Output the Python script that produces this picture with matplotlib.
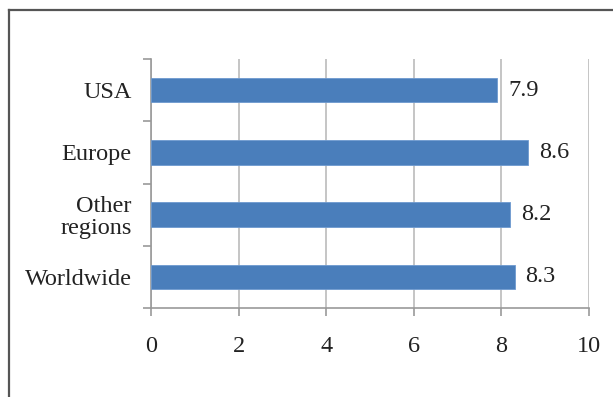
import numpy as np
import matplotlib
matplotlib.use("Agg")
import matplotlib.pyplot as plt

# chart data (top to bottom)
regions = ["USA", "Europe", "Other\nregions", "Worldwide"]
scores = [7.9, 8.6, 8.2, 8.3]
x_ticks = [0, 2, 4, 6, 8, 10]

plt.rcParams["font.family"] = ["Liberation Serif", "DejaVu Serif"]
FS = 17.5

W, H = 613, 397
fig = plt.figure(figsize=(W / 100, H / 100), dpi=100)

# outer frame (only left and top are visible in the crop)
fig.add_artist(plt.Line2D([9 / W, 9 / W], [0, 1 - 10 / H], color="#555555", lw=1.6,
                          transform=fig.transFigure))
fig.add_artist(plt.Line2D([9 / W, 1], [1 - 10 / H, 1 - 10 / H], color="#555555", lw=1.6,
                          transform=fig.transFigure))

left, right, top, bottom = 151, 589, 59, 308
ax = fig.add_axes([left / W, 1 - bottom / H, (right - left) / W, (bottom - top) / H])

y = np.arange(len(regions))[::-1]
ax.barh(y, scores, height=0.39, color="#4A7EBB", edgecolor="#6E9AD0", linewidth=0.6,
        zorder=3)
for yi, v in zip(y, scores):
    ax.text(v + 0.25, yi, f"{v}", va="center", ha="left", fontsize=FS, color="#222222")

ax.set_xlim(0, 10)
ax.set_ylim(-0.5, len(regions) - 0.5)
ax.set_xticks(x_ticks)
ax.set_xticklabels([str(t) for t in x_ticks])
ax.set_yticks(y)
ax.set_yticklabels(regions, linespacing=1.05, multialignment="right")
ax.set_yticks(np.arange(len(regions) + 1) - 0.5, minor=True)

ax.xaxis.grid(True, color="#BBBBBB", lw=1.2, zorder=0)
ax.tick_params(axis="y", which="major", length=0, pad=14, labelsize=FS, colors="#222222")
ax.tick_params(axis="y", which="minor", length=6, width=1.2, color="#999999")
ax.tick_params(axis="x", length=6, width=1.2, color="#999999", pad=14, labelsize=FS,
               labelcolor="#222222", direction="out")

for s in ["top", "right"]:
    ax.spines[s].set_visible(False)
for s in ["left", "bottom"]:
    ax.spines[s].set_color("#999999")
    ax.spines[s].set_linewidth(1.2)

fig.savefig("out.png", dpi=100)
